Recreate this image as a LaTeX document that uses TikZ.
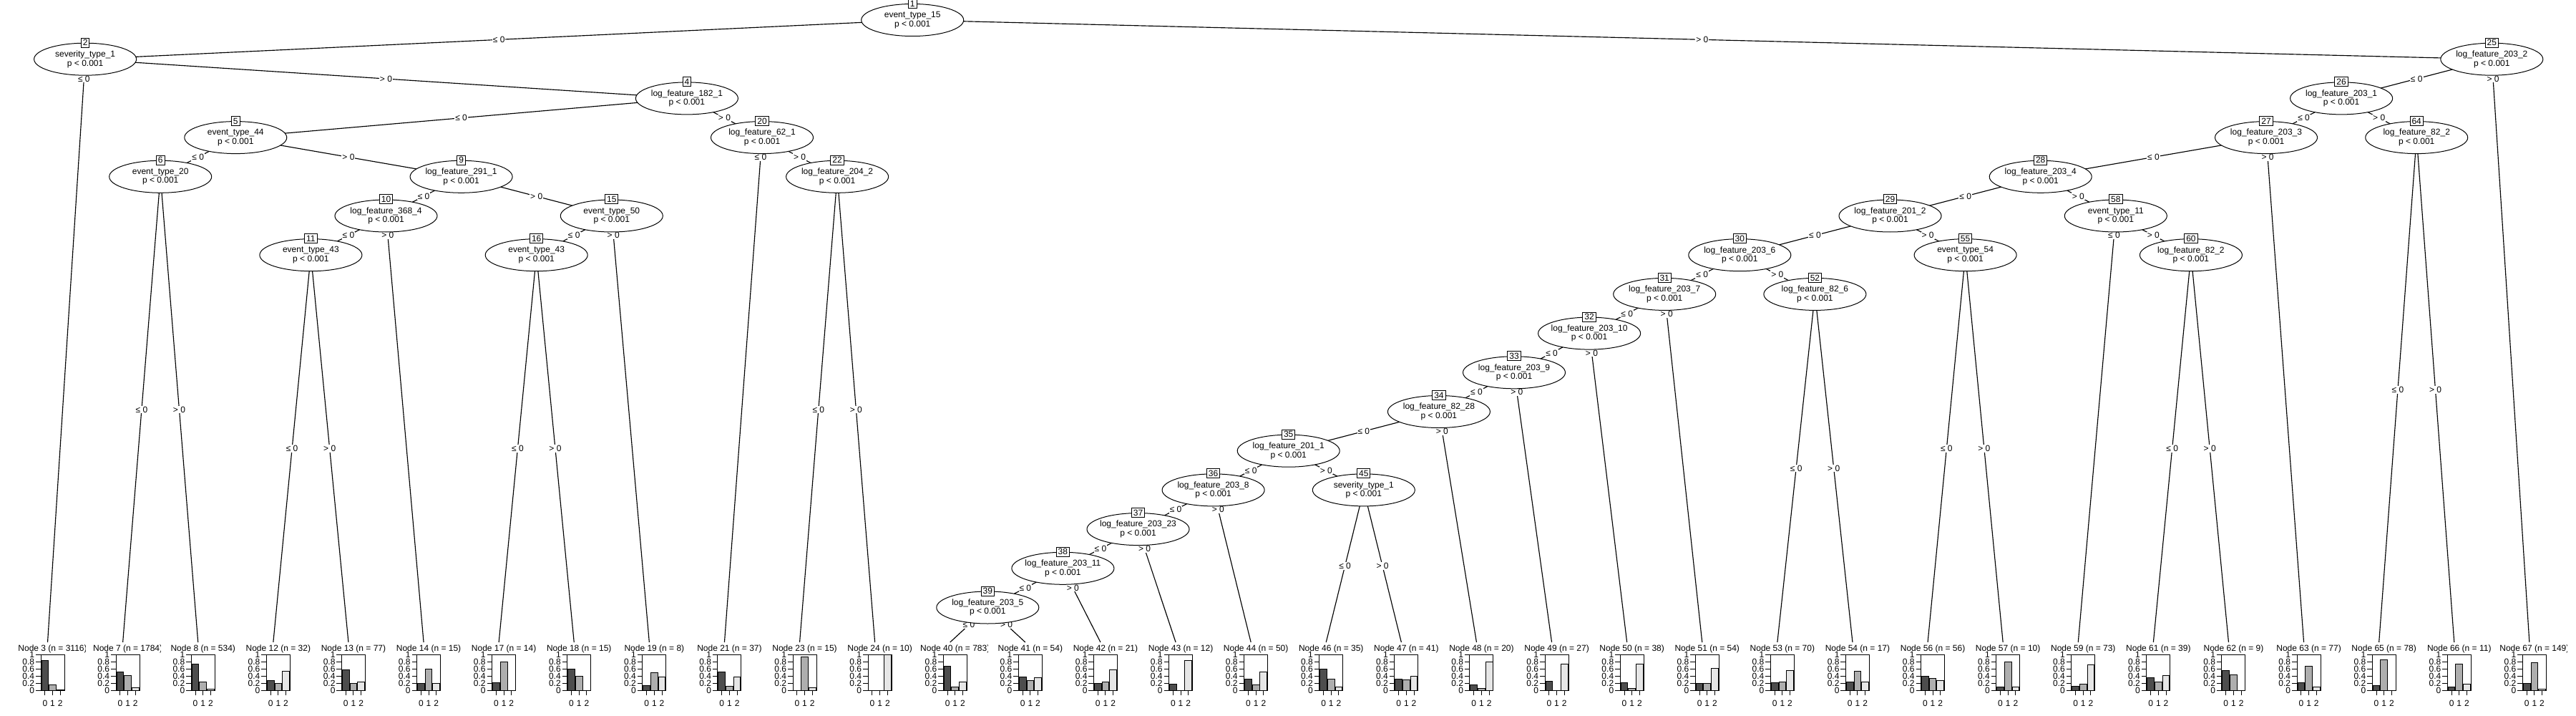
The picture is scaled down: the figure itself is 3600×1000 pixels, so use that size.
\documentclass[tikz,border=0pt]{standalone}
\usepackage{fontspec}
\setmainfont{Liberation Sans}
\usetikzlibrary{shapes.geometric,backgrounds}
\definecolor{bar0}{HTML}{4D4D4D}
\definecolor{bar1}{HTML}{AEAEAE}
\definecolor{bar2}{HTML}{E6E6E6}
\tikzset{split/.style={draw, ellipse, fill=white, minimum width=143pt, minimum height=45pt, inner sep=0pt},
  vartext/.style={align=center, inner sep=0pt},
  idbox/.style={draw, fill=white, inner xsep=2.5pt, inner ysep=0pt, minimum height=13pt},
  elab/.style={fill=white, inner sep=1pt},
  edge/.style={line width=1.15pt},
  ttl/.style={inner sep=0pt},
  tick/.style={inner sep=0pt}}

% inner node: slot k, depth d, id, variable
\newcommand{\splitnode}[4]{%
  \node[split] (n#3) at ({14+105.1*#1},{28+54.7*#2}) {};
  \node[vartext] (v#3) at (n#3) {#4\\p < 0.001};
  \node[idbox] (id#3) at (n#3.north) {#3};}

% terminal node: slot i, id, n, three proportions
\newcommand{\leaf}[6]{%
  \pgfmathsetmacro{\cx}{105.1*#1-38.55}
  \coordinate (t#2) at (\cx,897);
  \begin{scope}
    \clip (\cx-52.55,896) rectangle (\cx+52.55,920);
    \node[ttl] (ttl#2) at (\cx+7,906.5) {Node #2 (n = #3)};
  \end{scope}
  \foreach \v [count=\j from 0] in {#4,#5,#6}
    \draw[fill=bar\j] ({\cx-9.5+9.706*(0.1+1.1*\j)},964) rectangle ++(9.706,{-50*\v});
  \draw (\cx-9.5,914) rectangle (\cx+23.5,964);
  \foreach \tk [count=\m] in {0,0.2,0.4,0.6,0.8,1} {
    \draw (\cx-9.5,{964-50*\tk}) -- ++(-7,0);
    \node[tick, anchor=east] (y#2-\m) at (\cx-18,{964-50*\tk}) {\tk};
  }
  \foreach \lab [count=\j from 0] in {0,1,2} {
    \draw ({\cx-9.5+9.706*(0.6+1.1*\j)},964) -- ++(0,7);
    \node[tick] (x#2-\j) at ({\cx-9.5+9.706*(0.6+1.1*\j)},982) {\lab};
  }}

\begin{document}
\begin{tikzpicture}[x=1pt, y=-1pt, line width=1pt, font=\fontsize{12}{12.5}\selectfont]
  \useasboundingbox (0,0) rectangle (3600,1000);

  % splits
  \splitnode{12}{0}{1}{event\_type\_15}
  \splitnode{1}{1}{2}{severity\_type\_1}
  \splitnode{9}{2}{4}{log\_feature\_182\_1}
  \splitnode{3}{3}{5}{event\_type\_44}
  \splitnode{2}{4}{6}{event\_type\_20}
  \splitnode{6}{4}{9}{log\_feature\_291\_1}
  \splitnode{5}{5}{10}{log\_feature\_368\_4}
  \splitnode{4}{6}{11}{event\_type\_43}
  \splitnode{8}{5}{15}{event\_type\_50}
  \splitnode{7}{6}{16}{event\_type\_43}
  \splitnode{10}{3}{20}{log\_feature\_62\_1}
  \splitnode{11}{4}{22}{log\_feature\_204\_2}
  \splitnode{33}{1}{25}{log\_feature\_203\_2}
  \splitnode{31}{2}{26}{log\_feature\_203\_1}
  \splitnode{30}{3}{27}{log\_feature\_203\_3}
  \splitnode{32}{3}{64}{log\_feature\_82\_2}
  \splitnode{27}{4}{28}{log\_feature\_203\_4}
  \splitnode{25}{5}{29}{log\_feature\_201\_2}
  \splitnode{28}{5}{58}{event\_type\_11}
  \splitnode{23}{6}{30}{log\_feature\_203\_6}
  \splitnode{26}{6}{55}{event\_type\_54}
  \splitnode{29}{6}{60}{log\_feature\_82\_2}
  \splitnode{22}{7}{31}{log\_feature\_203\_7}
  \splitnode{24}{7}{52}{log\_feature\_82\_6}
  \splitnode{21}{8}{32}{log\_feature\_203\_10}
  \splitnode{20}{9}{33}{log\_feature\_203\_9}
  \splitnode{19}{10}{34}{log\_feature\_82\_28}
  \splitnode{17}{11}{35}{log\_feature\_201\_1}
  \splitnode{16}{12}{36}{log\_feature\_203\_8}
  \splitnode{18}{12}{45}{severity\_type\_1}
  \splitnode{15}{13}{37}{log\_feature\_203\_23}
  \splitnode{14}{14}{38}{log\_feature\_203\_11}
  \splitnode{13}{15}{39}{log\_feature\_203\_5}

  % leaves
  \leaf{1}{3}{3116}{.83}{.16}{.01}
  \leaf{2}{7}{1784}{.52}{.41}{.07}
  \leaf{3}{8}{534}{.73}{.24}{.03}
  \leaf{4}{12}{32}{.28}{.19}{.53}
  \leaf{5}{13}{77}{.57}{.19}{.24}
  \leaf{6}{14}{15}{.2}{.6}{.2}
  \leaf{7}{17}{14}{.21}{.79}{0}
  \leaf{8}{18}{15}{.6}{.4}{0}
  \leaf{9}{19}{8}{.125}{.5}{.375}
  \leaf{10}{21}{37}{.51}{.11}{.38}
  \leaf{11}{23}{15}{0}{.93}{.07}
  \leaf{12}{24}{10}{0}{0}{1}
  \leaf{13}{40}{783}{.67}{.09}{.24}
  \leaf{14}{41}{54}{.37}{.28}{.35}
  \leaf{15}{42}{21}{.19}{.24}{.57}
  \leaf{16}{43}{12}{.17}{0}{.83}
  \leaf{17}{44}{50}{.32}{.16}{.52}
  \leaf{18}{46}{35}{.6}{.31}{.09}
  \leaf{19}{47}{41}{.32}{.29}{.39}
  \leaf{20}{48}{20}{.15}{.05}{.8}
  \leaf{21}{49}{27}{.26}{0}{.74}
  \leaf{22}{50}{38}{.21}{.05}{.74}
  \leaf{23}{51}{54}{.19}{.19}{.62}
  \leaf{24}{53}{70}{.21}{.23}{.56}
  \leaf{25}{54}{17}{.24}{.53}{.24}
  \leaf{26}{56}{56}{.39}{.34}{.27}
  \leaf{27}{57}{10}{.1}{.8}{.1}
  \leaf{28}{59}{73}{.11}{.18}{.71}
  \leaf{29}{61}{39}{.36}{.23}{.41}
  \leaf{30}{62}{9}{.56}{.44}{0}
  \leaf{31}{63}{77}{.22}{.68}{.1}
  \leaf{32}{65}{78}{.14}{.86}{0}
  \leaf{33}{66}{11}{.09}{.73}{.18}
  \leaf{34}{67}{149}{.19}{.77}{.04}

  % edges
  \begin{pgfonlayer}{background}
  \begin{scope}[edge]
    \draw (n1.center) -- node[elab] {≤ 0} (n2.center);
    \draw (n1.center) -- node[elab] {> 0} (n25.center);
    \draw (n2.center) -- node[elab, pos=.0336] {≤ 0} (t3);
    \draw (n2.center) -- node[elab] {> 0} (n4.center);
    \draw (n4.center) -- node[elab] {≤ 0} (n5.center);
    \draw (n4.center) -- node[elab] {> 0} (n20.center);
    \draw (n5.center) -- node[elab] {≤ 0} (n6.center);
    \draw (n5.center) -- node[elab] {> 0} (n9.center);
    \draw (n6.center) -- node[elab] {≤ 0} (t7);
    \draw (n6.center) -- node[elab] {> 0} (t8);
    \draw (n9.center) -- node[elab] {≤ 0} (n10.center);
    \draw (n9.center) -- node[elab] {> 0} (n15.center);
    \draw (n10.center) -- node[elab] {≤ 0} (n11.center);
    \draw (n10.center) -- node[elab, pos=.0459] {> 0} (t14);
    \draw (n11.center) -- node[elab] {≤ 0} (t12);
    \draw (n11.center) -- node[elab] {> 0} (t13);
    \draw (n15.center) -- node[elab] {≤ 0} (n16.center);
    \draw (n15.center) -- node[elab, pos=.0459] {> 0} (t19);
    \draw (n16.center) -- node[elab] {≤ 0} (t17);
    \draw (n16.center) -- node[elab] {> 0} (t18);
    \draw (n20.center) -- node[elab, pos=.0388] {≤ 0} (t21);
    \draw (n20.center) -- node[elab] {> 0} (n22.center);
    \draw (n22.center) -- node[elab] {≤ 0} (t23);
    \draw (n22.center) -- node[elab] {> 0} (t24);
    \draw (n25.center) -- node[elab] {≤ 0} (n26.center);
    \draw (n25.center) -- node[elab, pos=.0336] {> 0} (t67);
    \draw (n26.center) -- node[elab] {≤ 0} (n27.center);
    \draw (n26.center) -- node[elab] {> 0} (n64.center);
    \draw (n27.center) -- node[elab] {≤ 0} (n28.center);
    \draw (n27.center) -- node[elab, pos=.0388] {> 0} (t63);
    \draw (n64.center) -- node[elab] {≤ 0} (t65);
    \draw (n64.center) -- node[elab] {> 0} (t66);
    \draw (n28.center) -- node[elab] {≤ 0} (n29.center);
    \draw (n28.center) -- node[elab] {> 0} (n58.center);
    \draw (n29.center) -- node[elab] {≤ 0} (n30.center);
    \draw (n29.center) -- node[elab] {> 0} (n55.center);
    \draw (n58.center) -- node[elab, pos=.0459] {≤ 0} (t59);
    \draw (n58.center) -- node[elab] {> 0} (n60.center);
    \draw (n30.center) -- node[elab] {≤ 0} (n31.center);
    \draw (n30.center) -- node[elab] {> 0} (n52.center);
    \draw (n55.center) -- node[elab] {≤ 0} (t56);
    \draw (n55.center) -- node[elab] {> 0} (t57);
    \draw (n60.center) -- node[elab] {≤ 0} (t61);
    \draw (n60.center) -- node[elab] {> 0} (t62);
    \draw (n31.center) -- node[elab] {≤ 0} (n32.center);
    \draw (n31.center) -- node[elab, pos=.0563] {> 0} (t51);
    \draw (n52.center) -- node[elab] {≤ 0} (t53);
    \draw (n52.center) -- node[elab] {> 0} (t54);
    \draw (n32.center) -- node[elab] {≤ 0} (n33.center);
    \draw (n32.center) -- node[elab, pos=.0634] {> 0} (t50);
    \draw (n33.center) -- node[elab] {≤ 0} (n34.center);
    \draw (n33.center) -- node[elab, pos=.0726] {> 0} (t49);
    \draw (n34.center) -- node[elab] {≤ 0} (n35.center);
    \draw (n34.center) -- node[elab, pos=.0849] {> 0} (t48);
    \draw (n35.center) -- node[elab] {≤ 0} (n36.center);
    \draw (n35.center) -- node[elab] {> 0} (n45.center);
    \draw (n36.center) -- node[elab] {≤ 0} (n37.center);
    \draw (n36.center) -- node[elab, pos=.1286] {> 0} (t44);
    \draw (n45.center) -- node[elab] {≤ 0} (t46);
    \draw (n45.center) -- node[elab] {> 0} (t47);
    \draw (n37.center) -- node[elab] {≤ 0} (n38.center);
    \draw (n37.center) -- node[elab, pos=.1732] {> 0} (t43);
    \draw (n38.center) -- node[elab] {≤ 0} (n39.center);
    \draw (n38.center) -- node[elab, pos=.265] {> 0} (t42);
    \draw (n39.center) -- node[elab] {≤ 0} (t40);
    \draw (n39.center) -- node[elab] {> 0} (t41);
  \end{scope}
  \end{pgfonlayer}
\end{tikzpicture}
\end{document}
